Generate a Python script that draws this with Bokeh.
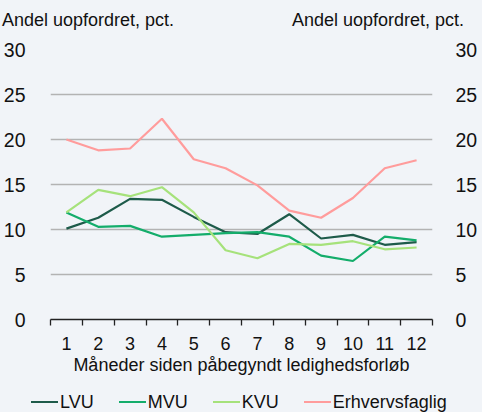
from bokeh.plotting import figure
from bokeh.layouts import column
from bokeh.models import (Range1d, LinearAxis, FixedTicker, Div)
from bokeh.embed import file_html
from bokeh.resources import INLINE

months = [1, 2, 3, 4, 5, 6, 7, 8, 9, 10, 11, 12]
lvu = [10.1, 11.3, 13.4, 13.3, 11.4, 9.7, 9.5, 11.7, 9.0, 9.4, 8.3, 8.6]
mvu = [11.9, 10.3, 10.4, 9.2, 9.4, 9.6, 9.7, 9.2, 7.1, 6.5, 9.2, 8.8]
kvu = [11.9, 14.4, 13.7, 14.7, 11.9, 7.7, 6.8, 8.4, 8.3, 8.7, 7.8, 8.0]
erhv = [20.0, 18.8, 19.0, 22.3, 17.8, 16.8, 14.9, 12.1, 11.3, 13.5, 16.8, 17.7]
series_names = ["LVU", "MVU", "KVU", "Erhvervsfaglig"]
series_colors = ["#1e5b4a", "#14ad6b", "#a6e27b", "#ff9c9c"]
y_ticks = [0, 5, 10, 15, 20, 25, 30]
y_title = "Andel uopfordret, pct."
x_title = "Måneder siden påbegyndt ledighedsforløb"

BG = "#f1f4f8"
FONT = "Liberation Sans"
W = 466

# --- top strip: the two value-axis titles ---
TOP_H = 36
top_html = (
    '<div style="position:relative;width:%dpx;height:%dpx;background:%s;'
    'font-family:\'%s\';font-size:18px;line-height:18px;color:#111111;">'
    '<span style="position:absolute;left:2px;top:11px;white-space:nowrap;">%s</span>'
    '<span style="position:absolute;right:2px;top:11px;white-space:nowrap;">%s</span>'
    '</div>' % (W, TOP_H, BG, FONT, y_title, y_title)
)
top = Div(text=top_html, width=W, height=TOP_H, margin=(0, 0, 0, 0))

# --- main chart ---
p = figure(frame_width=382, frame_height=270, output_backend="svg", toolbar_location=None,
           x_range=Range1d(0.5, 12.5), y_range=Range1d(0, 30),
           x_axis_location=None, y_axis_location=None,
           background_fill_color=BG, border_fill_color=BG, outline_line_color=None,
           min_border_left=45, min_border_right=39, min_border_top=13,
           min_border_bottom=0)

p.xgrid.visible = False
p.ygrid.ticker = FixedTicker(ticks=y_ticks[1:])
p.ygrid.grid_line_color = "#b3b3b3"
p.ygrid.grid_line_width = 1.3

xaxis = LinearAxis(ticker=FixedTicker(ticks=months,
                                      minor_ticks=[m - 0.5 for m in months] + [months[-1] + 0.5]),
                   axis_label=x_title)
xaxis.major_tick_out = 0
xaxis.major_tick_in = 0
xaxis.minor_tick_out = 6
xaxis.minor_tick_in = 0
xaxis.minor_tick_line_color = "#222222"
xaxis.minor_tick_line_width = 1.3
xaxis.axis_line_color = "#222222"
xaxis.axis_line_width = 1.3
xaxis.major_label_standoff = 11
xaxis.major_label_text_font = FONT
xaxis.major_label_text_font_size = "18px"
xaxis.major_label_text_color = "#111111"
xaxis.axis_label_text_font = FONT
xaxis.axis_label_text_font_size = "18px"
xaxis.axis_label_text_font_style = "normal"
xaxis.axis_label_text_color = "#111111"
xaxis.axis_label_standoff = 2
p.add_layout(xaxis, "below")

for side, standoff in (("left", 19), ("right", 17)):
    ax = LinearAxis(ticker=FixedTicker(ticks=y_ticks))
    ax.axis_line_color = None
    ax.major_tick_line_color = None
    ax.minor_tick_line_color = None
    ax.major_label_standoff = standoff
    ax.major_label_text_font = FONT
    ax.major_label_text_font_size = "19.5px"
    ax.major_label_text_color = "#111111"
    p.add_layout(ax, side)

for col, vals in zip(series_colors, [lvu, mvu, kvu, erhv]):
    p.line(months, vals, line_color=col, line_width=2.2)

# --- bottom strip: legend ---
LEG_H = 34
entries = "".join(
    '<span style="display:inline-block;width:27px;height:0;border-top:2.4px solid %s;'
    'margin-right:2px;"></span><span style="margin-right:25px;">%s</span>' % (c, n)
    for n, c in zip(series_names, series_colors)
)
leg_html = (
    '<div style="position:relative;width:%dpx;height:%dpx;background:%s;'
    'font-family:\'%s\';font-size:18px;line-height:18px;color:#111111;">'
    '<div style="position:absolute;left:31px;top:16px;height:18px;display:flex;'
    'align-items:center;white-space:nowrap;">%s</div></div>' % (W, LEG_H, BG, FONT, entries)
)
leg = Div(text=leg_html, width=W, height=LEG_H, margin=(0, 0, 0, 0))

layout = column(top, p, leg, spacing=0)

html = file_html(layout, INLINE)
html = html.replace("</head>", "<style>html,body{background:%s;}</style></head>" % BG, 1)
open("out.html", "w").write(html)
